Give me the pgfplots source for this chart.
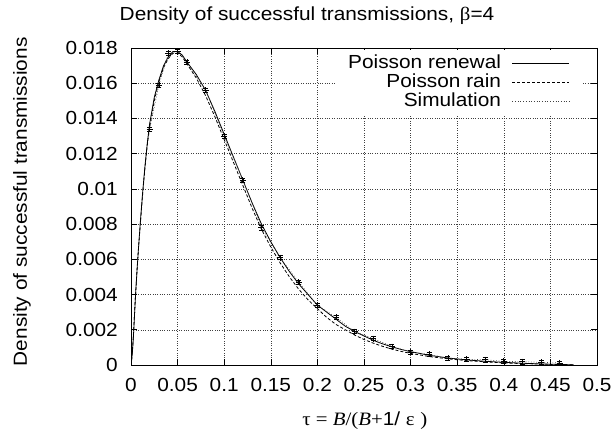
\documentclass[border=0pt]{standalone}
\usepackage{fontspec}
\setmainfont{Liberation Sans}[FakeStretch=1.1]
\newfontfamily\serif{Liberation Serif}[FakeStretch=1.1]
\usepackage{pgfplots}
\pgfplotsset{compat=1.18}
\usepackage{pgfplotstable}

\pgfplotstableread{
x y
0 0
0.001 0.0004
0.002 0.0011
0.003 0.0020
0.004 0.0031
0.005 0.0041
0.0065 0.0054
0.008 0.0066
0.01 0.0081
0.0125 0.0098
0.015 0.0113
0.0175 0.0126
0.02 0.0137
0.025 0.0152
0.03 0.0162
0.035 0.0170
0.04 0.0175
0.045 0.0178
0.05 0.0178
0.055 0.0176
0.06 0.0172
0.07 0.0165
0.08 0.0156
0.09 0.0144
0.10 0.0131
0.11 0.0118
0.12 0.0105
0.13 0.0092
0.14 0.0080
0.15 0.0070
0.16 0.0061
0.17 0.0053
0.18 0.0046
0.19 0.0040
0.20 0.0034
0.21 0.0030
0.22 0.0026
0.23 0.0022
0.24 0.0019
0.25 0.00165
0.26 0.0014
0.27 0.0012
0.28 0.00103
0.29 0.00088
0.30 0.00076
0.32 0.00055
0.34 0.00040
0.36 0.00029
0.38 0.00021
0.40 0.00015
0.42 0.00010
0.44 0.00006
0.46 0.00003
0.475 0.00001
}\renewal

\pgfplotstableread{
x y
0 0
0.001 0.0005
0.002 0.0012
0.003 0.0021
0.004 0.0031
0.005 0.0041
0.0065 0.0054
0.008 0.0066
0.01 0.0080
0.0125 0.0097
0.015 0.0112
0.0175 0.0125
0.02 0.0135
0.025 0.0150
0.03 0.0161
0.035 0.0169
0.04 0.0174
0.045 0.0177
0.05 0.0177
0.055 0.0175
0.06 0.0171
0.07 0.0163
0.08 0.0153
0.09 0.0141
0.10 0.0128
0.11 0.0115
0.12 0.0102
0.13 0.0089
0.14 0.0077
0.15 0.0067
0.16 0.0058
0.17 0.0050
0.18 0.0043
0.19 0.0037
0.20 0.0032
0.21 0.0027
0.22 0.0023
0.23 0.0020
0.24 0.0017
0.25 0.00145
0.26 0.00124
0.27 0.00106
0.28 0.0009
0.29 0.00077
0.30 0.00066
0.32 0.00048
0.34 0.00035
0.36 0.00025
0.38 0.00018
0.40 0.00012
0.42 0.00008
0.44 0.00005
0.46 0.00002
0.475 0.00001
}\rain

\pgfplotstableread{
x y
0.02 0.0134
0.03 0.0159
0.04 0.0177
0.05 0.0178
0.06 0.0172
0.08 0.0156
0.10 0.0130
0.12 0.0105
0.14 0.0078
0.16 0.0061
0.18 0.0047
0.20 0.0034
0.22 0.0027
0.24 0.0019
0.26 0.0015
0.28 0.00105
0.30 0.00074
0.32 0.00060
0.34 0.00038
0.36 0.00032
0.38 0.00030
0.40 0.00020
0.42 0.00019
0.44 0.00015
0.46 0.00012
}\sim

\begin{document}
\begin{tikzpicture}
\path[use as bounding box] (0,0) rectangle (614bp,435bp);
\begin{axis}[
  at={(131bp,70bp)}, anchor=south west,
  scale only axis, width=466bp, height=317bp,
  xmin=0, xmax=0.5, ymin=0, ymax=0.018,
  xtick={0,0.05,0.1,0.15,0.2,0.25,0.3,0.35,0.4,0.45,0.5},
  xticklabels={0,0.05,0.1,0.15,0.2,0.25,0.3,0.35,0.4,0.45,0.5},
  ytick={0,0.002,0.004,0.006,0.008,0.01,0.012,0.014,0.016,0.018},
  yticklabels={0,0.002,0.004,0.006,0.008,0.01,0.012,0.014,0.016,0.018},
  scaled ticks=false,
  tick align=inside,
  major tick length=6bp,
  tick style={black, line width=0.6bp},
  axis line style={black, line width=0.8bp},
  grid=major,
  grid style={dotted, black!75, line width=0.5bp},
  every tick label/.append style={font=\fontsize{19}{22}\selectfont},
  xticklabel style={anchor=center, yshift=-20bp},
  yticklabel style={anchor=east, inner sep=0pt, xshift=-13bp},
  xlabel={{\serif τ = \textit{B}/(\textit{B}+}1/ {\serif ε} {\serif )}},
  xlabel style={at={(axis description cs:0.502,-0.1924)}, anchor=base, font=\fontsize{19}{22}\selectfont},
  ylabel={Density of successful transmissions},
  ylabel style={at={(axis description cs:-0.2232,0.515)}, anchor=base, font=\fontsize{19}{22}\selectfont},
  title={Density of successful transmissions, {\serif β}=4},
  title style={at={(axis description cs:0.3777,1.0694)}, anchor=base, font=\fontsize{19}{22}\selectfont},
  legend plot pos=right,
  legend cell align=right,
  legend image code/.code={\draw[#1] (0bp,0bp) -- (57bp,0bp);},
  legend style={at={(axis description cs:0.970,0.9937)}, anchor=north east,
    draw=none, fill=white, inner xsep=13bp, inner ysep=5bp,
    column sep=11bp, row sep=2bp,
    font=\fontsize{19}{22}\selectfont,
    nodes={inner sep=0pt, text height=13bp, text depth=4bp}},
]
\addplot[black, line width=0.8bp] table {\renewal};
\addlegendentry{Poisson renewal}
\addplot[black, line width=0.8bp, dash pattern=on 3bp off 2bp] table {\rain};
\addlegendentry{Poisson rain}
\addplot[black!75, line width=0.7bp, dotted, mark=+, mark size=3bp,
  mark options={solid, black},
  error bars/.cd, y dir=both, y fixed=0.00012,
  error bar style={solid, black, line width=0.5bp},
  error mark options={rotate=90, mark size=2.5bp, black}] table {\sim};
\addlegendentry{Simulation}
\end{axis}
\end{tikzpicture}
\end{document}
